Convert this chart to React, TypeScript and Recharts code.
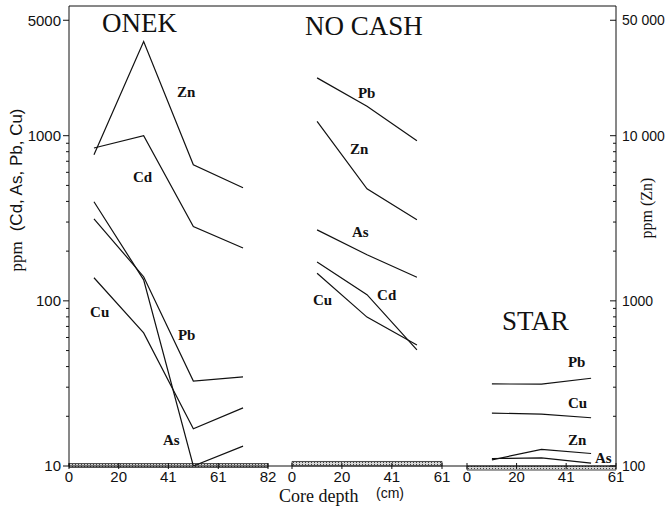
import React from 'react';
import { LineChart, Line, XAxis, YAxis, ReferenceArea, ReferenceDot } from 'recharts';

const SANS = '"Liberation Sans", Arial, Helvetica, sans-serif';
const SERIF = '"Liberation Serif", "Times New Roman", Times, serif';
const INK = '#111';

// sample depths (cm)
const onekDepth = [10.2, 30.5, 50.8, 71.1];
const shortDepth = [10.2, 30.5, 50.8];

// ppm; Zn is read on the right axis
const onekZn = [7670, 37150, 6670, 4840];
const onekCd = [842, 1000, 282, 209];
const onekAs = [398, 134, 10, 13.2];
const onekPb = [314, 140, 32.7, 34.6];
const onekCu = [138, 64, 16.8, 22.5];

const noCashPb = [2239, 1506, 933];
const noCashZn = [12210, 4770, 3100];
const noCashAs = [269, 190, 139];
const noCashCd = [172, 109, 50.5];
const noCashCu = [147, 79.7, 54];

const starPb = [31.4, 31.3, 34];
const starCu = [20.9, 20.6, 19.6];
const starZn = [109, 126, 119];
const starAs = [11.1, 11.2, 10.4];

// shaded background bands at the base of each panel (ppm)
const onekBand = [9.8, 10.35];
const noCashBand = [10, 10.65];
const starBand = [9.45, 10];

const xTicks82 = [0, 20.3, 40.6, 61, 81.3];
const xLabels82 = ['0', '20', '41', '61', '82'];
const xTicks61 = [0, 20.3, 40.6, 61];
const xLabels61 = ['0', '20', '41', '61'];

const leftMajor = [10, 100, 1000, 5000];
const leftMinor = [20, 30, 40, 50, 60, 70, 80, 90, 200, 300, 400, 500, 600, 700, 800, 900];
const rightMajor = [100, 1000, 10000, 50000];
const rightMinor = [200, 300, 400, 500, 600, 700, 800, 900, 2000, 3000, 4000, 5000, 6000, 7000, 8000, 9000];
const rightLabels: Record<number, string> = { 100: '100', 1000: '1000', 10000: '10 000', 50000: '50 000' };

// series name tags, placed in data units (left ppm scale)
const onekTags = [
  { name: 'Zn', depth: 44.1, ppm: 1722 },
  { name: 'Cd', depth: 26.1, ppm: 526 },
  { name: 'Cu', depth: 8.6, ppm: 80.3 },
  { name: 'Pb', depth: 44.5, ppm: 58 },
  { name: 'As', depth: 38.4, ppm: 13.4 },
];
const noCashTags = [
  { name: 'Pb', depth: 26.8, ppm: 1700 },
  { name: 'Zn', depth: 23.6, ppm: 778 },
  { name: 'As', depth: 24.4, ppm: 244 },
  { name: 'Cd', depth: 34.6, ppm: 101 },
  { name: 'Cu', depth: 8.5, ppm: 94.6 },
];
const starTags = [
  { name: 'Pb', depth: 41.3, ppm: 39.8 },
  { name: 'Cu', depth: 41.3, ppm: 22.5 },
  { name: 'Zn', depth: 41.3, ppm: 13.4 },
  { name: 'As', depth: 52.4, ppm: 10.4 },
];

const H = 512;
const TOP = 6;
const BOTTOM = 466;
const PAD = 14; // room for edge tick labels
const PPM_DOMAIN = [10, 6100];
const ZN_DOMAIN = [100, 61000];

type Row = { depth: number; [k: string]: number };

function rows(depth: number[], cols: Record<string, number[]>): Row[] {
  return depth.map((d, i) => {
    const r: Row = { depth: d };
    Object.keys(cols).forEach((k) => (r[k] = cols[k][i]));
    return r;
  });
}

const onekRows = rows(onekDepth, { Zn: onekZn, Cd: onekCd, As: onekAs, Pb: onekPb, Cu: onekCu });
const noCashRows = rows(shortDepth, { Zn: noCashZn, Cd: noCashCd, As: noCashAs, Pb: noCashPb, Cu: noCashCu });
const starRows = rows(shortDepth, { Zn: starZn, As: starAs, Pb: starPb, Cu: starCu });

const LeftTick = (props: any) => {
  const { x, y, payload } = props;
  const major = leftMajor.includes(payload.value);
  return (
    <g>
      <line x1={x} x2={x - (major ? 6 : 3)} y1={y} y2={y} stroke={INK} />
      {major && (
        <text x={x - 8} y={y} dy="0.36em" textAnchor="end" fontSize={15} fontFamily={SANS} fill={INK}>
          {payload.value}
        </text>
      )}
    </g>
  );
};

const RightTick = (props: any) => {
  const { x, y, payload } = props;
  const major = rightMajor.includes(payload.value);
  return (
    <g>
      <line x1={x} x2={x - (major ? 6 : 3)} y1={y} y2={y} stroke={INK} />
      {major && (
        <text x={x + 6} y={y} dy="0.36em" textAnchor="start" fontSize={14} fontFamily={SANS} fill={INK}>
          {rightLabels[payload.value]}
        </text>
      )}
    </g>
  );
};

const XTick = (props: any) => {
  const { x, y, payload, labels, ticks } = props;
  return (
    <g>
      <line x1={x} x2={x} y1={BOTTOM - 3} y2={BOTTOM + 3} stroke={INK} />
      <text x={x} y={y} dy="0.8em" textAnchor="middle" fontSize={15} fontFamily={SANS} fill={INK}>
        {labels[ticks.indexOf(payload.value)]}
      </text>
    </g>
  );
};

const tagShape = (name: string) => (p: any) => (
  <text x={p.cx} y={p.cy} fontSize={15} fontWeight="bold" fontFamily={SERIF} fill={INK}>
    {name}
  </text>
);

interface PanelProps {
  data: Row[];
  keys: string[];
  band: number[];
  tags: { name: string; depth: number; ppm: number }[];
  xTicks: number[];
  xLabels: string[];
  plotLeft: number;
  plotWidth: number;
  showLeft?: boolean;
  showRight?: boolean;
}

function Panel({ data, keys, band, tags, xTicks, xLabels, plotLeft, plotWidth, showLeft, showRight }: PanelProps) {
  const xMax = xTicks[xTicks.length - 1];
  const leftW = showLeft ? 69 : 0;
  const rightW = showRight ? 49 : 0;
  const mLeft = showLeft ? 0 : PAD;
  const mRight = showRight ? 0 : PAD;
  const width = mLeft + leftW + plotWidth + rightW + mRight;
  return (
    <div style={{ position: 'absolute', left: plotLeft - leftW - mLeft, top: 0 }}>
      <LineChart width={width} height={H} data={data} margin={{ top: TOP, right: mRight, bottom: 0, left: mLeft }}>
        <XAxis
          dataKey="depth"
          type="number"
          domain={[0, xMax]}
          ticks={xTicks}
          interval={0}
          allowDataOverflow
          height={H - BOTTOM}
          axisLine={false}
          tickLine={false}
          tickSize={0}
          tickMargin={4}
          tick={<XTick labels={xLabels} ticks={xTicks} />}
        />
        <YAxis
          yAxisId="ppm"
          scale="log"
          type="number"
          domain={PPM_DOMAIN}
          allowDataOverflow
          hide={!showLeft}
          width={69}
          ticks={[...leftMajor, ...leftMinor]}
          interval={0}
          axisLine={{ stroke: INK }}
          tickLine={false}
          tickSize={0}
          tickMargin={0}
          tick={<LeftTick />}
        />
        <YAxis
          yAxisId="zn"
          orientation="right"
          scale="log"
          type="number"
          domain={ZN_DOMAIN}
          allowDataOverflow
          hide={!showRight}
          width={49}
          ticks={[...rightMajor, ...rightMinor]}
          interval={0}
          axisLine={{ stroke: INK }}
          tickLine={false}
          tickSize={0}
          tickMargin={0}
          tick={<RightTick />}
        />
        <ReferenceArea
          yAxisId="ppm"
          x1={0}
          x2={xMax}
          y1={band[0]}
          y2={band[1]}
          ifOverflow="visible"
          fill="url(#stipple)"
          fillOpacity={1}
          stroke="#222"
          strokeWidth={0.8}
        />
        {keys.map((k) => (
          <Line
            key={k}
            yAxisId={k === 'Zn' ? 'zn' : 'ppm'}
            dataKey={k}
            stroke={INK}
            strokeWidth={1.2}
            dot={false}
            isAnimationActive={false}
          />
        ))}
        {tags.map((t) => (
          <ReferenceDot
            key={t.name}
            yAxisId="ppm"
            x={t.depth}
            y={t.ppm}
            r={0}
            ifOverflow="visible"
            shape={tagShape(t.name)}
          />
        ))}
      </LineChart>
    </div>
  );
}

export default function App() {
  return (
    <div style={{ position: 'absolute', left: 0, top: 0, width: 665, height: H, background: '#fff' }}>
      <svg width={665} height={H} style={{ position: 'absolute', left: 0, top: 0 }}>
        <defs>
          <pattern id="stipple" width="3" height="2" patternUnits="userSpaceOnUse">
            <rect width="3" height="2" fill="#d6d6d6" />
            <rect width="1" height="1" fill="#444" />
          </pattern>
        </defs>
      </svg>
      <Panel
        data={onekRows}
        keys={['Zn', 'Cd', 'As', 'Pb', 'Cu']}
        band={onekBand}
        tags={onekTags}
        xTicks={xTicks82}
        xLabels={xLabels82}
        plotLeft={69}
        plotWidth={199}
        showLeft
      />
      <Panel
        data={noCashRows}
        keys={['Zn', 'Cd', 'As', 'Pb', 'Cu']}
        band={noCashBand}
        tags={noCashTags}
        xTicks={xTicks61}
        xLabels={xLabels61}
        plotLeft={292}
        plotWidth={150}
      />
      <Panel
        data={starRows}
        keys={['Zn', 'As', 'Pb', 'Cu']}
        band={starBand}
        tags={starTags}
        xTicks={xTicks61}
        xLabels={xLabels61}
        plotLeft={467}
        plotWidth={149}
        showRight
      />
      <svg width={665} height={H} style={{ position: 'absolute', left: 0, top: 0, pointerEvents: 'none' }}>
        <line x1={69} x2={616} y1={TOP} y2={TOP} stroke={INK} />
        <line x1={69} x2={616} y1={BOTTOM} y2={BOTTOM} stroke={INK} />
        <text x={102} y={32} fontSize={27} fontFamily={SERIF} fill={INK}>ONEK</text>
        <text x={305} y={35} fontSize={27} fontFamily={SERIF} fill={INK}>NO CASH</text>
        <text x={502} y={330} fontSize={27} fontFamily={SERIF} fill={INK}>STAR</text>
        <text transform="translate(22,190) rotate(-90)" textAnchor="middle" fill={INK}>
          <tspan fontFamily={SERIF} fontSize={17}>ppm</tspan>
          <tspan fontFamily={SANS} fontSize={17} dx={10}>(Cd, As, Pb, Cu)</tspan>
        </text>
        <text transform="translate(652,208) rotate(-90)" textAnchor="middle" fontFamily={SERIF} fontSize={16} fill={INK}>
          ppm (Zn)
        </text>
        <text x={279} y={502} fontFamily={SERIF} fontSize={18} fill={INK}>Core depth</text>
        <text x={376} y={498} fontFamily={SANS} fontSize={14} fill={INK}>(cm)</text>
      </svg>
    </div>
  );
}
